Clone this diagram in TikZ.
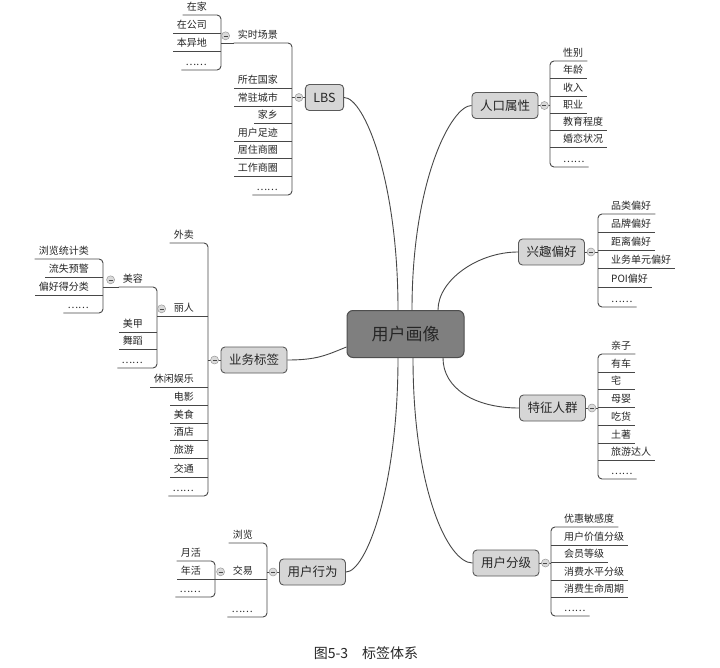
\documentclass[tikz,border=0pt]{standalone}
\usepackage{fontspec}
\setmainfont{Noto Sans CJK SC}
\usetikzlibrary{calc}

\definecolor{ink}{HTML}{262626}
\definecolor{wire}{HTML}{474747}
\definecolor{boxfill}{HTML}{D6D6D6}
\definecolor{boxline}{HTML}{5A5A5A}
\definecolor{corefill}{HTML}{7F7F7F}
\definecolor{coreline}{HTML}{4E4E4E}
\definecolor{knobfill}{HTML}{DADADA}
\definecolor{knobline}{HTML}{9A9A9A}

\tikzset{
  wire/.style={draw=wire, line width=0.9pt},
  link/.style={draw=wire, line width=0.9pt},
  core/.style={rounded corners=6pt, fill=corefill, draw=coreline, line width=1pt,
    minimum width=117pt, minimum height=47pt, inner sep=0pt, text=ink,
    font=\fontsize{17}{20}\selectfont},
  topic/.style={rounded corners=4pt, fill=boxfill, draw=boxline, line width=0.9pt,
    minimum height=26pt, inner xsep=8pt, inner ysep=0pt, text=ink,
    font=\fontsize{12.5}{15}\selectfont},
  leaf/.style={inner xsep=4pt, inner ysep=2pt, text height=8pt, text depth=2pt,
    text=ink, font=\fontsize{10}{12}\selectfont},
  knob/.style={circle, fill=knobfill, draw=knobline, line width=0.5pt,
    minimum size=8pt, inner sep=0pt,
    path picture={\draw[wire, line width=0.5pt]
      ([xshift=-2pt]path picture bounding box.center) --
      ([xshift=2pt]path picture bounding box.center);}},
}

% labels shorter than two characters keep a two-character underline
\newcommand\leaftext[1]{\setbox0=\hbox{#1}\ifdim\wd0<20pt\hbox to 20pt{\box0\hfil}\else\box0\fi}

% list of underlined labels to the right of a vertical bar at x=#2
\newcommand\rightlist[3]{%
  \coordinate (#1-bar) at (#2,0);
  \foreach \rowy/\rowtext [count=\rowno] in {#3}{%
    \node[leaf, anchor=south west] (#1-\rowno) at ({#2+9},\rowy) {\leaftext{\rowtext}};
    \xdef\lastrow{\rowno}%
  }
  \draw[wire, rounded corners=4pt] (#1-1.south east) -- (#1-bar |- #1-1.south)
    -- (#1-bar |- #1-\lastrow.south) -- (#1-\lastrow.south east);
  \pgfmathtruncatemacro\innerrows{\lastrow-1}
  \foreach \rowno in {2,...,\innerrows}{\draw[wire] (#1-bar |- #1-\rowno.south) -- (#1-\rowno.south east);}
}

% list of underlined labels to the left of a vertical bar at x=#2
\newcommand\leftlist[3]{%
  \coordinate (#1-bar) at (#2,0);
  \foreach \rowy/\rowtext [count=\rowno] in {#3}{%
    \node[leaf, anchor=south east] (#1-\rowno) at ({#2-10},\rowy) {\rowtext};
    \xdef\lastrow{\rowno}%
  }
  \draw[wire, rounded corners=4pt] (#1-1.south west) -- (#1-bar |- #1-1.south)
    -- (#1-bar |- #1-\lastrow.south) -- (#1-\lastrow.south west);
  \pgfmathtruncatemacro\innerrows{\lastrow-1}
  \foreach \rowno in {2,...,\innerrows}{\draw[wire] (#1-bar |- #1-\rowno.south) -- (#1-\rowno.south west);}
}

\begin{document}
\begin{tikzpicture}[x=1pt, y=-1pt]
\fill[white] (0,0) rectangle (720,668);
\useasboundingbox (0,0) rectangle (720,668);

% central topic and main branches
\node[core] (core) at (405.5,334) {用户画像};
\node[topic] (lbs)   at (324.5,97.5) {LBS};
\node[topic] (pop)   at (505,105.5)  {人口属性};
\node[topic] (hobby) at (551.5,252)  {兴趣偏好};
\node[topic] (crowd) at (552.5,408)  {特征人群};
\node[topic] (grade) at (506,563)    {用户分级};
\node[topic] (act)   at (312.5,572)  {用户行为};
\node[topic] (biz)   at (254,360)    {业务标签};

% curved links from the centre
\draw[link] (lbs.east) .. controls +(20,0) and +(0,-130) .. ([xshift=-7.5pt]core.north);
\draw[link] (pop.west) .. controls +(-20,0) and +(0,-130) .. ([xshift=6.5pt]core.north);
\draw[link] (hobby.west) .. controls +(-40,0) and +(0,-30) .. ([xshift=32.5pt]core.north);
\draw[link] (crowd.west) .. controls +(-45,0) and +(0,30) .. ([xshift=37.5pt]core.south);
\draw[link] (grade.west) .. controls +(-25,0) and +(0,130) .. ([xshift=7.5pt]core.south);
\draw[link] (act.east) .. controls +(20,0) and +(0,130) .. ([xshift=-7.5pt]core.south);
\draw[link] (biz.east) .. controls +(30,0) and +(-20,8) .. ([yshift=-13pt]core.west);

% LBS
\leftlist{lbs}{292}{43/实时场景,88/所在国家,106/常驻城市,123/家乡,141/用户足迹,158/居住商圈,176/工作商圈,195/……}
\draw[wire] (lbs.west) -- (lbs-bar |- lbs.west);
\node[knob] (lbs-k) at ([xshift=-6pt]lbs.west) {};
\leftlist{scene}{221}{15/在家,33/在公司,51/本异地,70/……}
\draw[wire] (scene-bar |- lbs-1.south) -- (lbs-1.south west);
\node[knob] (scene-k) at ([xshift=-8pt]lbs-1.west) {};

% 人口属性
\rightlist{pop}{550}{61/性别,78/年龄,96/收入,113/职业,130/教育程度,147/婚恋状况,167/……}
\draw[wire] (pop.east) -- (pop-bar |- pop.east);
\node[knob] (pop-k) at ([xshift=6pt]pop.east) {};

% 兴趣偏好
\rightlist{hobby}{598}{214/品类偏好,232/品牌偏好,250/距离偏好,268/业务单元偏好,287/POI偏好,307/……}
\draw[wire] (hobby.east) -- (hobby-bar |- hobby.east);
\node[knob] (hobby-k) at ([xshift=6pt]hobby.east) {};

% 特征人群
\rightlist{crowd}{598}{354/亲子,372/有车,389/宅,407/母婴,425/吃货,443/土著,460/旅游达人,479/……}
\draw[wire] (crowd.east) -- (crowd-bar |- crowd.east);
\node[knob] (crowd-k) at ([xshift=6pt]crowd.east) {};

% 用户分级
\rightlist{grade}{551}{527/优惠敏感度,545/用户价值分级,562/会员等级,580/消费水平分级,597/消费生命周期,616/……}
\draw[wire] (grade.east) -- (grade-bar |- grade.east);
\node[knob] (grade-k) at ([xshift=6pt]grade.east) {};

% 业务标签
\leftlist{biz}{208}{243/外卖,316/丽人,387/休闲娱乐,405/电影,423/美食,440/酒店,458/旅游,477/交通,496/……}
\draw[wire] (biz.west) -- (biz-bar |- biz.west);
\node[knob] (biz-k) at ([xshift=-6pt]biz.west) {};
\leftlist{beauty}{157}{287/美容,332/美甲,349/舞蹈,368/……}
\draw[wire] (beauty-bar |- biz-2.south) -- (biz-2.south west);
\node[knob] (beauty-k) at ([xshift=-8pt]biz-2.west) {};
\leftlist{care}{103}{259/浏览统计类,277/流失预警,295/偏好得分类,313/……}
\draw[wire] (care-bar |- beauty-1.south) -- (beauty-1.south west);
\node[knob] (care-k) at ([xshift=-8pt]beauty-1.west) {};

% 用户行为
\leftlist{act}{267}{543/浏览,579/交易,617/……}
\draw[wire] (act.west) -- (act-bar |- act.west);
\node[knob] (act-k) at ([xshift=-6pt]act.west) {};
\leftlist{trade}{215}{561/月活,579/年活,597/……}
\draw[wire] (trade-bar |- act-2.south) -- (act-2.south west);
\node[knob] (trade-k) at ([xshift=-8pt]act-2.west) {};

% caption
\node[text=ink, font=\fontsize{14}{16}\selectfont] (caption) at (366,653) {图5-3\hspace{1em}标签体系};
\end{tikzpicture}
\end{document}
